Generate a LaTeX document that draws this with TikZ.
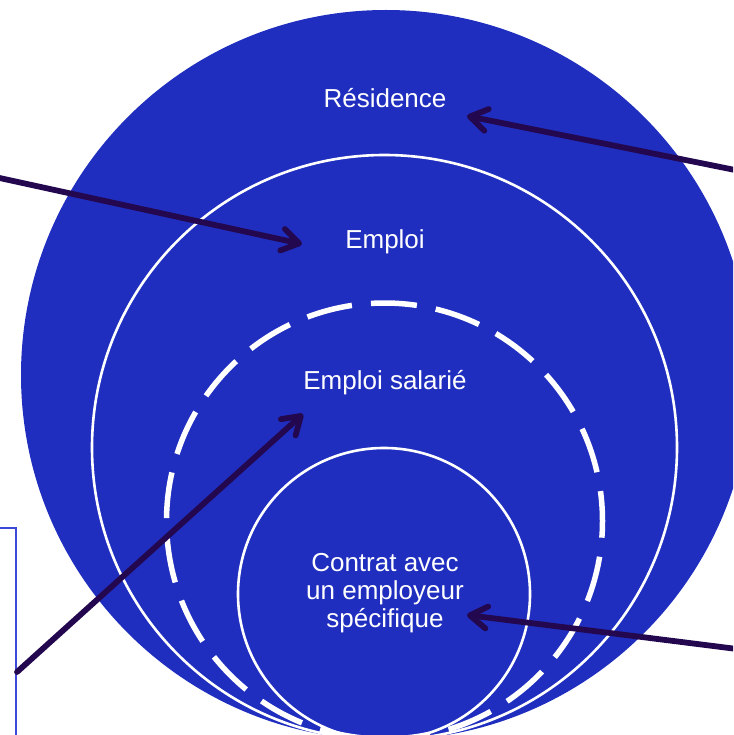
\documentclass[tikz,border=0pt]{standalone}
\usepackage{fontspec}
\setmainfont{Liberation Sans}
\usetikzlibrary{arrows.meta}
\definecolor{bigblue}{RGB}{31,46,190}
\definecolor{arrowpurple}{RGB}{35,8,80}
\definecolor{boxblue}{RGB}{60,72,215}
\begin{document}
\begin{tikzpicture}[x=1pt,y=-1pt,
  lbl/.style={text=white, font=\fontsize{26}{28}\selectfont, align=center, inner sep=0pt},
  ring/.style={draw=white, line width=2.6pt},
  dashring/.style={draw=white, line width=5.5pt, dash pattern=on 46pt off 19.2pt, dash phase=16pt},
  pointer/.style={draw=arrowpurple, line width=5.8pt, line cap=round,
    -{Straight Barb[length=17pt,width=22pt,line cap=round,line join=round]}},
  framebox/.style={draw=boxblue, line width=1.5pt},
]
\useasboundingbox (0,0) rectangle (733,735);
\clip (0,0) rectangle (733,735);
% circles
\fill[bigblue] (386,375) circle[radius=365pt];
\draw[ring] (384.5,447.5) circle[radius=292.5pt];
\draw[dashring] (384.5,521) circle[radius=218pt];
\draw[ring] (384,594) circle[radius=146pt];
% labels
\node[lbl] (res) at (385,98) {Résidence};
\node[lbl] (emp) at (385,242) {Emploi};
\node[lbl] (sal) at (385,383) {Emploi salarié};
\node[lbl] (con) at (385,593) {Contrat avec\\un employeur\\spécifique};
% left frame
\draw[framebox] (0,528) -- (16,528) -- (16,740);
% arrow ends
\coordinate (empTail) at (-5,177);
\coordinate (empTip) at (302,244);
\coordinate (resTail) at (745,172);
\coordinate (resTip) at (467,116);
\coordinate (salTail) at (17,672);
\coordinate (salTip) at (303,414);
\coordinate (conTail) at (745,650);
\coordinate (conTip) at (467,615);
\draw[pointer] (empTail) -- (empTip);
\draw[pointer] (resTail) -- (resTip);
\draw[pointer] (salTail) -- (salTip);
\draw[pointer] (conTail) -- (conTip);
\end{tikzpicture}
\end{document}
